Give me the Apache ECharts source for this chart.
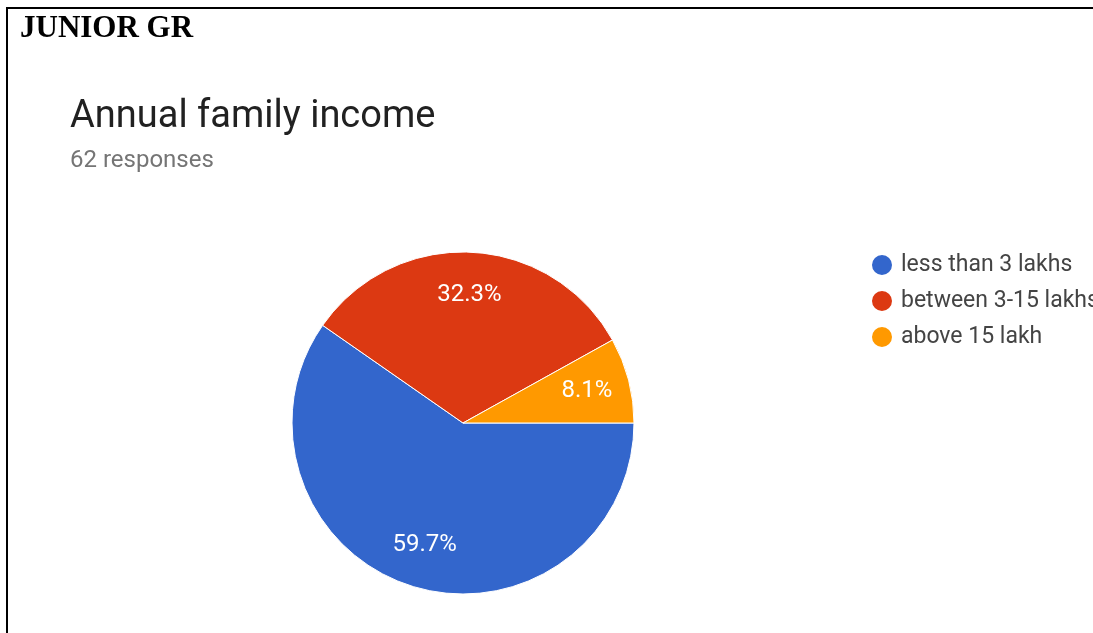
<!DOCTYPE html>
<html>
<head>
<meta charset="utf-8">
<script src="https://cdn.jsdelivr.net/npm/echarts@6/dist/echarts.min.js"></script>
<style>
html,body{margin:0;padding:0;background:#fff;overflow:hidden;width:1093px;height:633px;}
#chart{position:absolute;left:0;top:0;width:1093px;height:633px;}
.bt{position:absolute;left:6px;top:7px;width:1087px;height:2px;background:#000;}
.bl{position:absolute;left:6px;top:7px;width:2px;height:626px;background:#000;}
</style>
</head>
<body>
<div id="chart"></div>
<div class="bt"></div>
<div class="bl"></div>
<script>
const categories = ['less than 3 lakhs', 'between 3-15 lakhs', 'above 15 lakh'];
const responses = [37, 20, 5];
const colors = ['#3366cc', '#dc3912', '#ff9900'];

const data = categories.map((name, i) => ({ name: name, value: responses[i] }));

const chart = echarts.init(document.getElementById('chart'));
chart.setOption({
  animation: false,
  color: colors,
  graphic: [
    { type: 'text', left: 20, top: 13, style: { text: 'JUNIOR GR', font: 'bold 31px "Liberation Serif", "Times New Roman", serif', fill: '#000' } }
  ],
  title: {
    text: 'Annual family income',
    subtext: '62 responses',
    left: 65,
    top: 93,
    itemGap: 13,
    textStyle: { fontFamily: 'Roboto', fontSize: 38, fontWeight: 'normal', color: '#212121' },
    subtextStyle: { fontFamily: 'Roboto', fontSize: 24, color: '#757575' }
  },
  legend: {
    orient: 'vertical',
    left: 865,
    top: 248,
    icon: 'circle',
    itemWidth: 22,
    itemHeight: 22,
    itemGap: 12,
    data: categories,
    textStyle: { fontFamily: 'Roboto', fontSize: 23, color: '#444', padding: [0, 0, 0, 3] }
  },
  series: [
    {
      type: 'pie',
      center: [463, 423],
      radius: [0, 171],
      startAngle: 0,
      clockwise: true,
      data: data,
      label: { show: false },
      labelLine: { show: false },
      itemStyle: { borderColor: '#fff', borderWidth: 1 },
      emphasis: { disabled: true }
    },
    {
      type: 'pie',
      center: [463, 423],
      radius: [80, 170],
      startAngle: 0,
      clockwise: true,
      silent: true,
      data: data,
      itemStyle: { color: 'rgba(0,0,0,0)', borderWidth: 0 },
      label: {
        show: true,
        position: 'inside',
        formatter: p => p.percent.toFixed(1) + '%',
        fontFamily: 'Roboto',
        fontSize: 24,
        color: '#fff'
      },
      labelLine: { show: false },
      emphasis: { disabled: true }
    }
  ]
});
</script>
</body>
</html>
